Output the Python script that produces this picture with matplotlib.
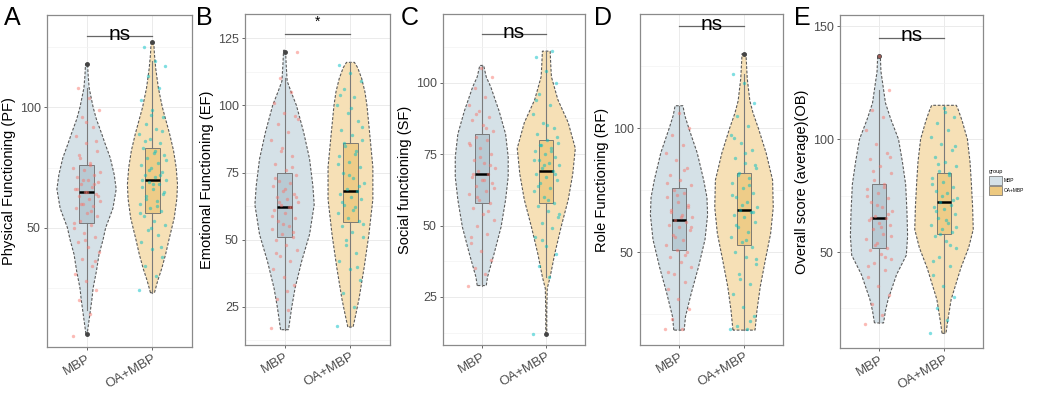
import numpy as np
import matplotlib
matplotlib.use("Agg")
import matplotlib.pyplot as plt
from matplotlib.patches import Patch

plt.rcParams['font.family'] = ['Liberation Sans', 'DejaVu Sans']

groups = ["MBP", "OA+MBP"]

# ---- A: Physical Functioning (PF)
pf_mbp_pts = [5, 14, 20, 24, 28, 31, 34, 37, 40, 42, 44, 46, 48, 50, 51, 53, 55, 56, 58, 59, 60, 61, 62,
              63, 64, 65, 66, 67, 68, 69, 70, 71, 72, 74, 75, 77, 79, 82, 85, 88, 92, 96, 99, 104, 108,
              36, 45, 52, 57, 60, 63, 65, 66, 68, 70, 73, 76, 80, 86, 94]
pf_oa_pts = [24, 30, 34, 38, 41, 44, 47, 49, 51, 53, 55, 57, 58, 60, 61, 63, 64, 66, 67, 68, 69, 70, 71,
             72, 73, 75, 76, 77, 79, 80, 81, 83, 85, 87, 89, 91, 93, 96, 99, 103, 108, 113, 117, 119, 125,
             42, 50, 56, 59, 62, 65, 68, 70, 72, 74, 78, 82, 86, 90, 97]
pf_mbp_violin = [(6, 0.01), (12, 0.04), (20, 0.08), (25, 0.10), (32, 0.15), (39, 0.19), (45, 0.25),
                 (50, 0.29), (58, 0.40), (66, 0.45), (72, 0.42), (79, 0.36), (85, 0.28), (89, 0.23),
                 (95, 0.15), (100, 0.10), (108, 0.04), (113, 0.025), (118, 0.015)]
pf_oa_violin = [(23, 0.03), (28, 0.08), (33, 0.14), (39, 0.20), (45, 0.25), (54, 0.33), (62, 0.37),
                (68, 0.38), (75, 0.36), (82, 0.32), (89, 0.26), (95, 0.20), (100, 0.15), (108, 0.09),
                (116, 0.05), (122, 0.03), (127, 0.02)]
# box: whisker low, q1, median, q3, whisker high, outliers
pf_mbp_box = [16, 52, 65, 76, 108, [6, 118]]
pf_oa_box = [23, 56, 70, 83, 119, [127]]

# ---- B: Emotional Functioning (EF)
ef_mbp_pts = [17, 24, 28, 33, 36, 39, 42, 44, 46, 48, 50, 51, 52, 54, 55, 57, 58, 60, 61, 62, 63, 64,
              65, 66, 67, 68, 70, 71, 72, 74, 76, 78, 81, 84, 87, 90, 93, 96, 97, 101, 105, 110, 120,
              31, 45, 53, 56, 59, 62, 64, 66, 69, 73, 77, 83, 95]
ef_oa_pts = [18, 25, 30, 35, 39, 42, 45, 48, 51, 53, 55, 57, 58, 60, 62, 63, 65, 66, 67, 68, 69, 71,
             73, 75, 77, 79, 81, 83, 85, 87, 89, 91, 94, 97, 100, 103, 106, 109, 112, 115,
             40, 50, 56, 61, 64, 70, 74, 78, 82, 86, 92, 99, 104]
ef_mbp_violin = [(16.5, 0.06), (25, 0.11), (32, 0.16), (42, 0.26), (52, 0.38), (63, 0.45), (70, 0.43),
                 (80, 0.38), (90, 0.29), (100, 0.18), (105, 0.10), (109, 0.04), (115, 0.025), (120.5, 0.015)]
ef_oa_violin = [(17.5, 0.04), (22, 0.08), (28, 0.13), (40, 0.21), (52, 0.28), (65, 0.34), (77, 0.34),
                (90, 0.29), (100, 0.25), (105, 0.22), (110, 0.17), (114, 0.11), (116, 0.06)]
ef_mbp_box = [16.5, 51, 62, 75, 110, [120]]
ef_oa_box = [17.5, 56.5, 68, 86, 116, []]

# ---- C: Social functioning (SF)
sf_mbp_pts = [29, 33, 35, 38, 41, 44, 47, 50, 52, 54, 56, 58, 59, 61, 62, 64, 65, 66, 67, 68, 69, 70,
              72, 73, 75, 77, 78, 80, 81, 83, 85, 87, 88, 90, 92, 95, 98, 102, 105,
              46, 55, 60, 63, 66, 68, 71, 74, 79, 84, 89]
sf_oa_pts = [12, 32, 36, 40, 43, 46, 49, 51, 53, 55, 57, 58, 60, 62, 63, 65, 66, 67, 68, 69, 70, 71,
             72, 73, 74, 75, 76, 77, 78, 79, 80, 82, 84, 86, 89, 92, 96, 100, 104, 109, 111,
             45, 54, 59, 64, 68, 71, 73, 76, 78, 81, 85, 94]
sf_mbp_violin = [(29, 0.07), (32, 0.09), (40, 0.19), (49.5, 0.30), (59, 0.37), (67, 0.41), (74, 0.41),
                 (82, 0.37), (90, 0.27), (98.5, 0.14), (102, 0.07), (106, 0.03)]
sf_oa_violin = [(12, 0.008), (20, 0.008), (28, 0.015), (32, 0.06), (40, 0.13), (49.5, 0.23), (59, 0.34),
                (68, 0.41), (77, 0.45), (86, 0.34), (94, 0.18), (102, 0.08), (106, 0.07), (111, 0.06)]
sf_mbp_box = [29, 58, 68, 82, 106, []]
sf_oa_box = [32, 58, 69, 80, 111, [12]]

# ---- D: Role Functioning (RF)
rf_mbp_pts = [19, 19, 23, 27, 31, 35, 38, 41, 44, 46, 48, 50, 51, 53, 55, 57, 59, 60, 61, 62, 63, 64,
              65, 67, 68, 70, 72, 74, 75, 77, 79, 81, 84, 87, 90, 93, 97, 100, 106,
              42, 49, 56, 60, 64, 66, 69, 73, 78, 83]
rf_oa_pts = [19, 19, 20, 24, 28, 33, 37, 41, 45, 48, 50, 52, 54, 56, 58, 60, 62, 64, 65, 66, 67, 68,
             70, 72, 74, 76, 78, 80, 82, 84, 86, 88, 91, 94, 97, 101, 105, 110, 118, 122,
             22, 39, 47, 55, 61, 66, 69, 73, 77, 81, 85, 90, 96]
rf_mbp_violin = [(18.5, 0.08), (24, 0.10), (33.5, 0.19), (44, 0.30), (55, 0.40), (65, 0.44), (72, 0.43),
                 (79, 0.38), (90, 0.28), (100, 0.15), (105, 0.09), (109, 0.06)]
rf_oa_violin = [(18.5, 0.17), (26.5, 0.20), (36, 0.25), (47, 0.33), (57.5, 0.41), (68, 0.45), (79, 0.44),
                (90, 0.34), (100, 0.22), (106, 0.14), (111, 0.09), (120, 0.05), (130, 0.03)]
rf_mbp_box = [18.5, 51, 63, 76, 109, []]
rf_oa_box = [18.5, 53, 67, 82, 122, [130]]

# ---- E: Overall score (average)(OB)
ob_mbp_pts = [18, 22, 27, 31, 35, 39, 42, 45, 47, 49, 51, 52, 54, 56, 58, 60, 62, 63, 64, 65, 66, 68,
              70, 72, 74, 76, 78, 80, 82, 85, 88, 91, 94, 98, 104, 110, 113, 122, 137,
              44, 48, 53, 57, 61, 65, 67, 71, 75, 79, 86, 92]
ob_oa_pts = [14, 20, 25, 30, 35, 40, 44, 48, 52, 55, 57, 59, 60, 62, 63, 65, 67, 69, 70, 71, 72, 74,
             76, 77, 79, 81, 83, 84, 86, 88, 90, 92, 95, 98, 101, 104, 107, 110, 114,
             46, 53, 58, 61, 64, 68, 73, 75, 80, 85, 89, 97, 112]
ob_mbp_violin = [(18.6, 0.07), (24, 0.10), (29, 0.14), (40, 0.27), (48.6, 0.42), (57, 0.44), (68, 0.43),
                 (80, 0.41), (90, 0.36), (100, 0.30), (109, 0.18), (116, 0.10), (124, 0.06), (130, 0.03),
                 (137, 0.02)]
ob_oa_violin = [(14, 0.03), (20, 0.06), (29, 0.11), (43, 0.26), (52, 0.38), (60, 0.45), (70, 0.44),
                (81, 0.42), (90, 0.40), (100, 0.36), (108, 0.28), (113, 0.22), (115, 0.19)]
ob_mbp_box = [18.6, 52, 65, 80, 122, [137]]
ob_oa_box = [14, 58, 72, 85, 115, []]

letters = ["A", "B", "C", "D", "E"]
ylabels = ["Physical Functioning (PF)", "Emotional Functioning (EF)", "Social functioning (SF)",
           "Role Functioning (RF)", "Overall score (average)(OB)"]
signif = ["ns", "*", "ns", "ns", "ns"]
signif_y = [129.6, 126.5, 117, 141, 145]
ylims = [(0.5, 138.3), (10.8, 134), (8.2, 124), (12.5, 146), (7.5, 155)]
yticks = [[50, 100], [25, 50, 75, 100, 125], [25, 50, 75, 100], [50, 100], [50, 100, 150]]
yminor = [[25, 75, 125], [12.5, 37.5, 62.5, 87.5, 112.5], [12.5, 37.5, 62.5, 87.5, 112.5],
          [25, 75, 125], [25, 75, 125]]

violin_fill = ["#d5e1e7", "#f6e0b6"]
box_fill = ["#b3c7d0", "#edc980"]
point_col = ["#F8766D", "#00BFC4"]

W, H = 1040, 393
fig = plt.figure(figsize=(W / 100, H / 100), dpi=100)
boxes_px = [(47, 15, 192, 347), (245, 14, 390, 345), (443, 14, 585, 345),
            (640, 14, 783, 345), (840, 15, 983, 348)]
letter_x = [4, 196, 401, 594, 794]

panels = [
    (pf_mbp_pts, pf_oa_pts, pf_mbp_violin, pf_oa_violin, pf_mbp_box, pf_oa_box),
    (ef_mbp_pts, ef_oa_pts, ef_mbp_violin, ef_oa_violin, ef_mbp_box, ef_oa_box),
    (sf_mbp_pts, sf_oa_pts, sf_mbp_violin, sf_oa_violin, sf_mbp_box, sf_oa_box),
    (rf_mbp_pts, rf_oa_pts, rf_mbp_violin, rf_oa_violin, rf_mbp_box, rf_oa_box),
    (ob_mbp_pts, ob_oa_pts, ob_mbp_violin, ob_oa_violin, ob_mbp_box, ob_oa_box),
]

for k, (p1, p2, v1, v2, b1, b2) in enumerate(panels):
    l, t, r, b = boxes_px[k]
    ax = fig.add_axes([l / W, 1 - b / H, (r - l) / W, (b - t) / H])
    pts = [p1, p2]
    vio = [v1, v2]
    bx = [b1, b2]
    stats = []
    for g in range(2):
        c = g + 1
        lv = np.array([q[0] for q in vio[g]])
        hw = np.array([q[1] for q in vio[g]])
        xs = np.concatenate([c - hw, (c + hw)[::-1]])
        ys = np.concatenate([lv, lv[::-1]])
        ax.fill(xs, ys, facecolor=violin_fill[g], edgecolor="#5a5a5a", linewidth=0.8,
                linestyle=(0, (2.5, 1.5)), zorder=2)
        s = bx[g]
        stats.append(dict(whislo=s[0], q1=s[1], med=s[2], q3=s[3], whishi=s[4], fliers=s[5]))
    ax.bxp(stats, positions=[1, 2], widths=0.22, patch_artist=True, showcaps=False,
           boxprops=dict(linewidth=0.7, edgecolor="#6a6a6a"),
           whiskerprops=dict(color="#7a7a7a", linewidth=0.8),
           medianprops=dict(color="black", linewidth=1.8),
           flierprops=dict(marker="o", markersize=2.5, markerfacecolor="#444444",
                           markeredgecolor="#444444"),
           zorder=3)
    for g, patch in enumerate(ax.patches[-2:]):
        patch.set_facecolor(box_fill[g])
        patch.set_alpha(0.85)
    for g in range(2):
        vals = np.array(pts[g], dtype=float)
        n = len(vals)
        offs = ((np.arange(n) * 0.618034) % 1 - 0.5) * 0.42
        ax.scatter(g + 1 + offs, vals, s=6, color=point_col[g], alpha=0.5, linewidths=0, zorder=4)

    ax.plot([1, 2], [signif_y[k]] * 2, color="#666666", linewidth=0.9, zorder=5)
    if signif[k] == "ns":
        ax.text(1.5, signif_y[k] - 1.5, "ns", ha="center", va="baseline", fontsize=15, zorder=6)
    else:
        ax.text(1.5, signif_y[k] + 2, "*", ha="center", va="bottom", fontsize=10, zorder=6)

    ax.set_xlim(0.4, 2.6)
    ax.set_ylim(*ylims[k])
    ax.set_xticks([1, 2])
    ax.set_xticklabels(groups, rotation=30, ha="right", rotation_mode="anchor",
                       fontsize=9.5, color="#4d4d4d")
    ax.set_yticks(yticks[k])
    ax.set_yticks(yminor[k], minor=True)
    ax.set_yticklabels([str(v) for v in yticks[k]], fontsize=9, color="#4d4d4d")
    ax.tick_params(axis="both", which="major", length=2.5, width=0.6, color="#4d4d4d", pad=2)
    ax.tick_params(axis="x", which="major", pad=1.5)
    ax.tick_params(axis="y", which="minor", length=0)
    ax.grid(True, which="major", color="#ebebeb", linewidth=0.7, zorder=0)
    ax.grid(True, which="minor", axis="y", color="#f3f3f3", linewidth=0.5, zorder=0)
    ax.set_axisbelow(True)
    for sp in ax.spines.values():
        sp.set_color("#8a8a8a")
        sp.set_linewidth(0.9)
    ax.set_ylabel(ylabels[k], fontsize=10.5, labelpad=3)
    fig.text(letter_x[k] / W, 1 - 6 / H, letters[k], fontsize=18, va="top", ha="left")

handles = [Patch(facecolor=violin_fill[0], edgecolor="#6a6a6a", linewidth=0.5),
           Patch(facecolor=box_fill[1], edgecolor="#6a6a6a", linewidth=0.5)]
fig.legend(handles, groups, title="group", loc="center left", bbox_to_anchor=(987 / W, 1 - 182 / H),
           fontsize=3.5, title_fontsize=4, frameon=False, handlelength=2.6, handleheight=2.4,
           handletextpad=0.5, labelspacing=0.4, borderaxespad=0, alignment="left")

fig.savefig("out.png", dpi=100)
